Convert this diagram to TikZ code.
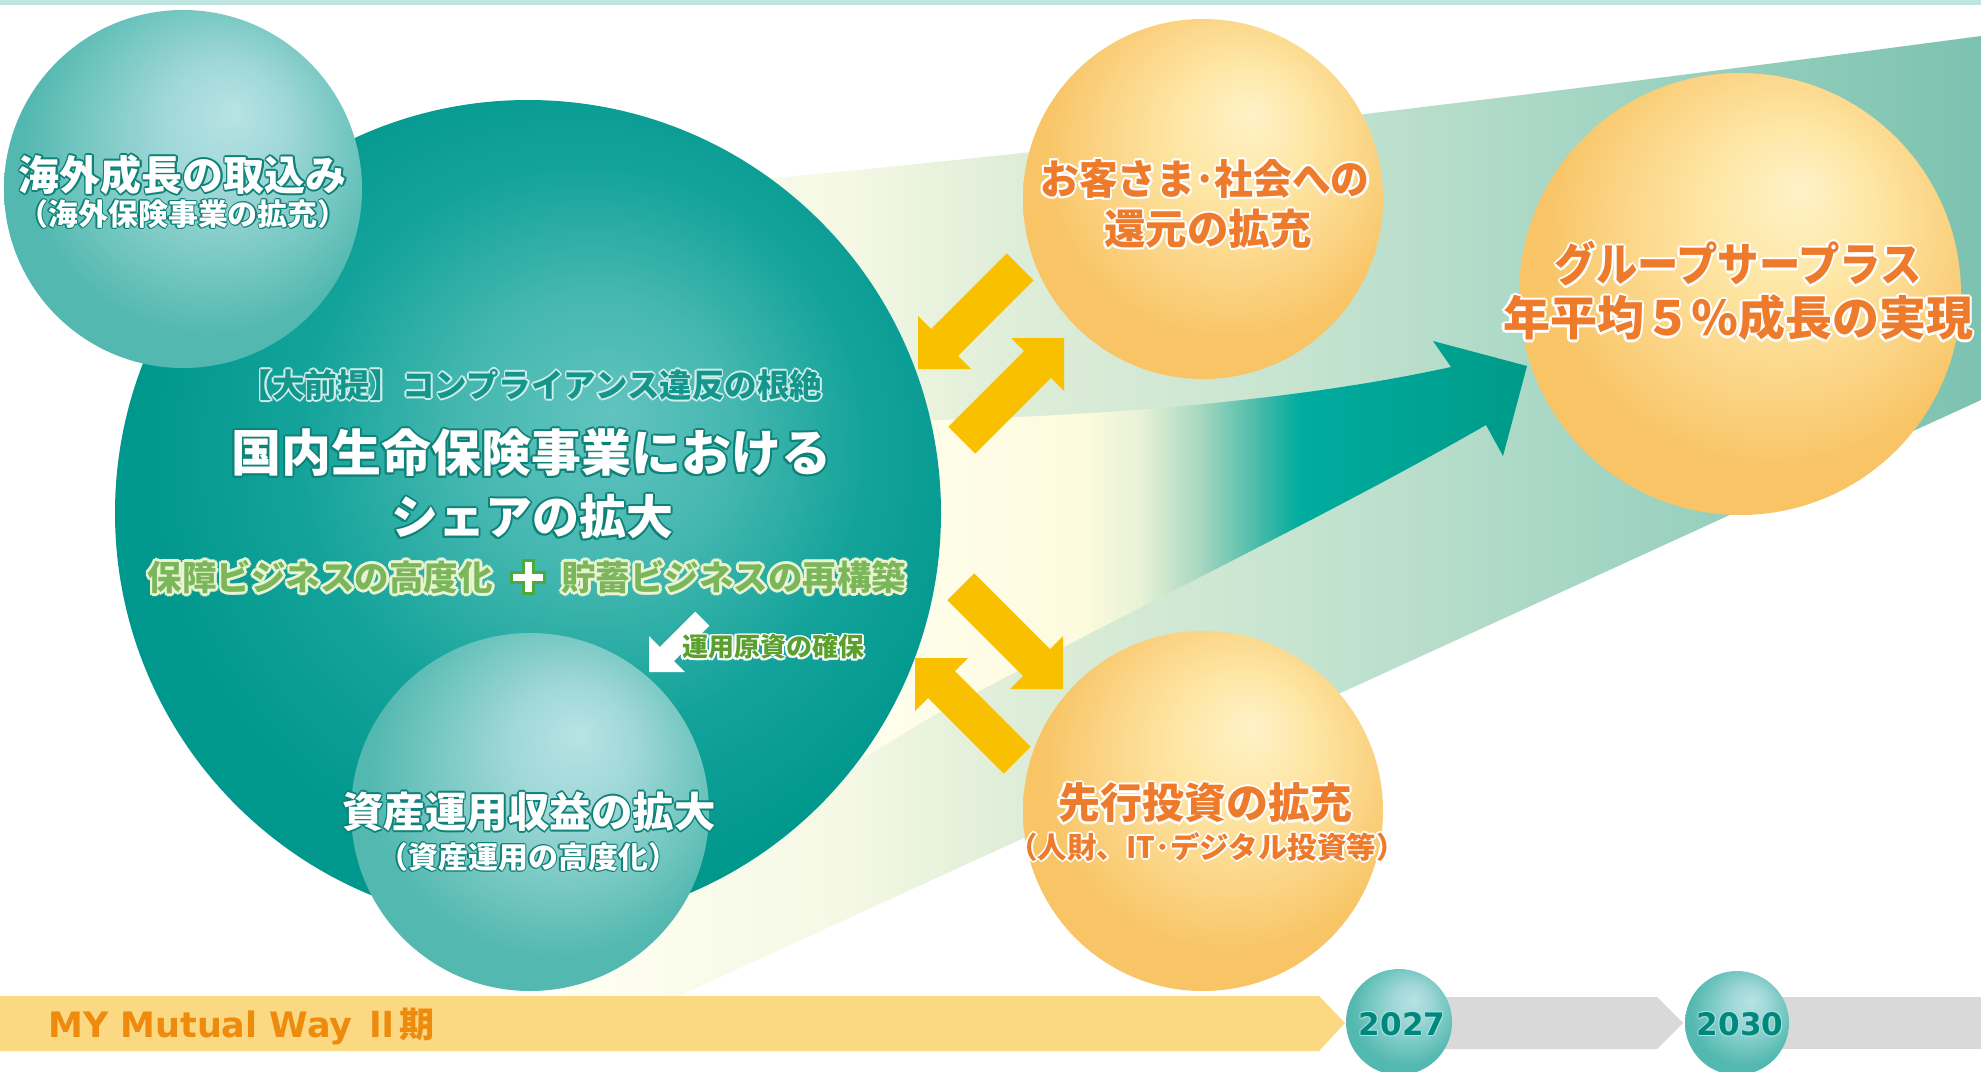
\documentclass[tikz,border=0pt]{standalone}
\usepackage{fontspec}
\usepackage{graphicx}
\setmainfont{DejaVu Sans}
\newfontfamily\jp{Noto Sans CJK JP}
\usetikzlibrary{calc}

\definecolor{topstrip}{HTML}{BEE5E0}
\definecolor{fanA}{HTML}{FFFFF2}
\definecolor{fanB}{HTML}{F4F8E4}
\definecolor{fanC}{HTML}{E0EED8}
\definecolor{fanD}{HTML}{C6E4D0}
\definecolor{fanE}{HTML}{A3D5C3}
\definecolor{fanF}{HTML}{7CC2B0}
\definecolor{arA}{HTML}{FFFEEE}
\definecolor{arB}{HTML}{FDFBDE}
\definecolor{arC}{HTML}{E8F2D6}
\definecolor{arD}{HTML}{A7D7C1}
\definecolor{arE}{HTML}{45BAA8}
\definecolor{arF}{HTML}{00AC9F}
\definecolor{arG}{HTML}{009A88}
\definecolor{tb0}{HTML}{B8E3E5}
\definecolor{tb1}{HTML}{9FD7D7}
\definecolor{tb2}{HTML}{72C6C0}
\definecolor{tb3}{HTML}{52B8B0}
\definecolor{ob0}{HTML}{FFF2C8}
\definecolor{ob1}{HTML}{FEE7A6}
\definecolor{ob2}{HTML}{FBD383}
\definecolor{ob3}{HTML}{F8C465}
\definecolor{bb0}{HTML}{62C3BE}
\definecolor{bb1}{HTML}{46B8B1}
\definecolor{bb2}{HTML}{14A39A}
\definecolor{bb3}{HTML}{00978D}
\definecolor{yarr}{HTML}{F9C000}
\definecolor{barY}{HTML}{FBD882}
\definecolor{barG}{HTML}{D9D9D9}
\definecolor{tealdk}{HTML}{0E8279}
\definecolor{tealtx}{HTML}{15968C}
\definecolor{tealglow}{HTML}{CFEDEA}
\definecolor{orangetx}{HTML}{EE7B2C}
\definecolor{greentx}{HTML}{7BB65A}
\definecolor{greenglow}{HTML}{E9F4D2}
\definecolor{greensm}{HTML}{5BA02E}
\definecolor{plusg}{HTML}{4BAA3E}
\definecolor{bottomtx}{HTML}{EE8A0C}
\definecolor{yeartx}{HTML}{00877E}
\definecolor{yearglow}{HTML}{A8DEDB}

\pgfdeclarehorizontalshading{fansh}{100bp}{color(0bp)=(fanA); color(25bp)=(fanA); color(35.2bp)=(fanB); color(40.5bp)=(fanC); color(51bp)=(fanD); color(61.6bp)=(fanE); color(75bp)=(fanF); color(100bp)=(fanF)}
\pgfdeclarehorizontalshading{arrsh}{100bp}{color(0bp)=(arA); color(25bp)=(arA); color(41.5bp)=(arB); color(46bp)=(arC); color(50.5bp)=(arD); color(55bp)=(arE); color(58bp)=(arF); color(75bp)=(arG); color(100bp)=(arG)}
\pgfdeclareradialshading{tealball}{\pgfpoint{7bp}{11bp}}{color(0bp)=(tb0); color(9bp)=(tb1); color(19bp)=(tb2); color(26bp)=(tb3); color(50bp)=(tb3)}
\pgfdeclareradialshading{orball}{\pgfpoint{7bp}{12bp}}{color(0bp)=(ob0); color(9bp)=(ob1); color(19bp)=(ob2); color(26bp)=(ob3); color(50bp)=(ob3)}
\pgfdeclareradialshading{bigball}{\pgfpoint{5bp}{6bp}}{color(0bp)=(bb0); color(8bp)=(bb1); color(17bp)=(bb2); color(26bp)=(bb3); color(50bp)=(bb3)}

\newbox\halobox
\newdimen\halor
\newdimen\halod
\def\hlcopy#1#2{\rlap{\kern#1\raise#2\copy\halobox}}
\def\ring#1#2{\halor=#1\relax\halod=0.7071\halor
  \rlap{\color{#2}\hlcopy{\halor}{0pt}\hlcopy{-\halor}{0pt}\hlcopy{0pt}{\halor}\hlcopy{0pt}{-\halor}%
  \hlcopy{\halod}{\halod}\hlcopy{-\halod}{\halod}\hlcopy{\halod}{-\halod}\hlcopy{-\halod}{-\halod}}}
\newcommand\halo[4]{\setbox\halobox=\hbox{#4}\leavevmode\ring{#1}{#2}{\color{#3}\box\halobox}}
\newcommand\halotwo[6]{\setbox\halobox=\hbox{#6}\leavevmode\ring{#1}{#2}\ring{#3}{#4}{\color{#5}\box\halobox}}
\newcommand\fs[1]{\fontsize{#1}{#1}\selectfont}

\newcommand\diagarrow[7]{% style, tip, dx, dy, leg, halfwidth, shaft
  \fill[#1] (#2) -- +({-(#3)*(#5)},0)
   -- +({-(#3)*((#5)/2+(#6)*0.7071)},{-(#4)*((#5)/2-(#6)*0.7071)})
   -- +({-(#3)*((#5)/2+(#6)*0.7071+(#7)*0.7071)},{-(#4)*((#5)/2-(#6)*0.7071+(#7)*0.7071)})
   -- +({-(#3)*((#5)/2-(#6)*0.7071+(#7)*0.7071)},{-(#4)*((#5)/2+(#6)*0.7071+(#7)*0.7071)})
   -- +({-(#3)*((#5)/2-(#6)*0.7071)},{-(#4)*((#5)/2+(#6)*0.7071)})
   -- +(0,{-(#4)*(#5)}) -- cycle;}

\tikzset{
  ball/.style={circle, inner sep=0pt, draw=none},
  jtxt/.style={inner sep=0pt, font=\jp\bfseries},
  yellowarrow/.style={fill=yarr},
  whitearrow/.style={fill=white},
}

\begin{document}
\begin{tikzpicture}[x=1pt,y=-1pt]
\useasboundingbox (0,0) rectangle (1981,1071);
\fill[white] (0,0) rectangle (1981,1071);
\fill[topstrip] (0,0) rectangle (1981,5);

% fan band
\shade[shading=fansh] (560,998) -- (674,998) -- (1981,400) -- (1981,36)
  .. controls (1500,100) and (1000,160) .. (640,190) -- cycle;

% big growth arrow
\shade[shading=arrsh] (860,422) .. controls (1100,418) and (1300,400) .. (1451,367)
  -- (1433,341) -- (1527,366) -- (1503,456) -- (1486,425)
  .. controls (1330,515) and (1100,625) .. (931,717) -- (860,760) -- cycle;

% circles
\node[ball, minimum size=826pt, shading=bigball] (B) at (528,513) {};
\node[ball, minimum size=358pt, shading=tealball] (A) at (183,189) {};
\node[ball, minimum size=358pt, shading=tealball] (C) at (530,812) {};

% yellow exchange arrows
\coordinate (y1) at (918,369);
\coordinate (y2) at (1064,338);
\coordinate (y3) at (1063,689);
\coordinate (y4) at (915,658);
\diagarrow{yellowarrow}{y1}{-1}{1}{53}{19}{107}
\diagarrow{yellowarrow}{y2}{1}{-1}{53}{19}{107}
\diagarrow{yellowarrow}{y3}{1}{1}{53}{19}{107}
\diagarrow{yellowarrow}{y4}{-1}{-1}{53}{19}{107}

% white arrow
\coordinate (w1) at (649,672);
\diagarrow{whitearrow}{w1}{-1}{1}{36}{10}{50}

\node[ball, minimum size=360pt, shading=orball] (D) at (1203,199) {};
\node[ball, minimum size=442pt, shading=orball] (E) at (1740,294) {};
\node[ball, minimum size=360pt, shading=orball] (F) at (1203,811) {};

% timeline bars
\fill[barY] (0,996) -- (1319,996) -- (1345,1023) -- (1319,1051) -- (0,1051) -- cycle;
\fill[barG] (1420,997) -- (1657,997) -- (1683,1023) -- (1657,1049) -- (1420,1049) -- cycle;
\fill[barG] (1760,997) -- (1981,997) -- (1981,1049) -- (1760,1049) -- cycle;
\node[ball, minimum size=106pt, shading=tealball] (Y1) at (1399,1022) {};
\node[ball, minimum size=104pt, shading=tealball] (Y2) at (1737,1023) {};

% texts
\node[jtxt] (tA1) at (183,175) {\halo{1.7pt}{tealdk}{white}{\fs{41}海外成長の取込み}};
\node[jtxt] (tA2) at (183,214) {\halo{1.4pt}{tealdk}{white}{\fs{30}（海外保険事業の拡充）}};

\node[jtxt] (tB1) at (531,385) {\halo{1.8pt}{tealglow}{tealtx}{\fs{32.5}【大前提】コンプライアンス違反の根絶}};
\node[jtxt] (tB2) at (531,453) {\halo{2pt}{tealdk}{white}{\fs{50}国内生命保険事業における}};
\node[jtxt] (tB3) at (532,517) {\halo{2pt}{tealdk}{white}{\fs{47}シェアの拡大}};
\node[jtxt, anchor=east] (tG1) at (493,577) {\halo{2.8pt}{greenglow}{greentx}{\fs{34.5}保障ビジネスの高度化}};
\node[jtxt, anchor=west] (tG2) at (561,577) {\halo{2.8pt}{greenglow}{greentx}{\fs{34.5}貯蓄ビジネスの再構築}};
\coordinate (plus) at (528,577);
\filldraw[fill=white, draw=plusg, line width=3pt, line join=miter]
  (plus) ++(-5,-16.5) -- ++(10,0) -- ++(0,11.5) -- ++(11.5,0) -- ++(0,10) -- ++(-11.5,0)
  -- ++(0,11.5) -- ++(-10,0) -- ++(0,-11.5) -- ++(-11.5,0) -- ++(0,-10) -- ++(11.5,0) -- cycle;
\node[jtxt, anchor=west] (tW) at (682,647) {\halo{1.8pt}{white}{greensm}{\fs{26}運用原資の確保}};

\node[jtxt] (tC1) at (529,812) {\halo{1.7pt}{tealdk}{white}{\fs{41.5}資産運用収益の拡大}};
\node[jtxt] (tC2) at (528,857) {\halo{1.4pt}{tealdk}{white}{\fs{30}（資産運用の高度化）}};

\node[jtxt] (tD1) at (1205,179) {\halo{2.2pt}{white}{orangetx}{\scalebox{0.945}[1]{\fs{41}お客さま･社会への}}};
\node[jtxt] (tD2) at (1208,229) {\halo{2.2pt}{white}{orangetx}{\fs{41.5}還元の拡充}};
\node[jtxt] (tE1) at (1738,264) {\halo{2.2pt}{white}{orangetx}{\scalebox{0.9}[1]{\fs{46}グループサープラス}}};
\node[jtxt] (tE2) at (1738,318) {\halo{2.2pt}{white}{orangetx}{\fs{47}年平均５％成長の実現}};
\node[jtxt] (tF1) at (1205,803) {\halo{2.2pt}{white}{orangetx}{\fs{42}先行投資の拡充}};
\node[jtxt] (tF2) at (1207,847) {\halo{1.8pt}{white}{orangetx}{\fs{29.5}（人財、IT･デジタル投資等）}};

\node[inner sep=0pt, anchor=west, text=bottomtx, font=\bfseries\fs{35}] (tMY) at (48,1026) {MY Mutual Way {\jp Ⅱ期}};
\node[inner sep=0pt, font=\bfseries\fs{31}] (t27) at (1402,1024) {\halo{1pt}{yearglow}{yeartx}{2027}};
\node[inner sep=0pt, font=\bfseries\fs{31}] (t30) at (1740,1024) {\halo{1pt}{yearglow}{yeartx}{2030}};
\end{tikzpicture}
\end{document}
